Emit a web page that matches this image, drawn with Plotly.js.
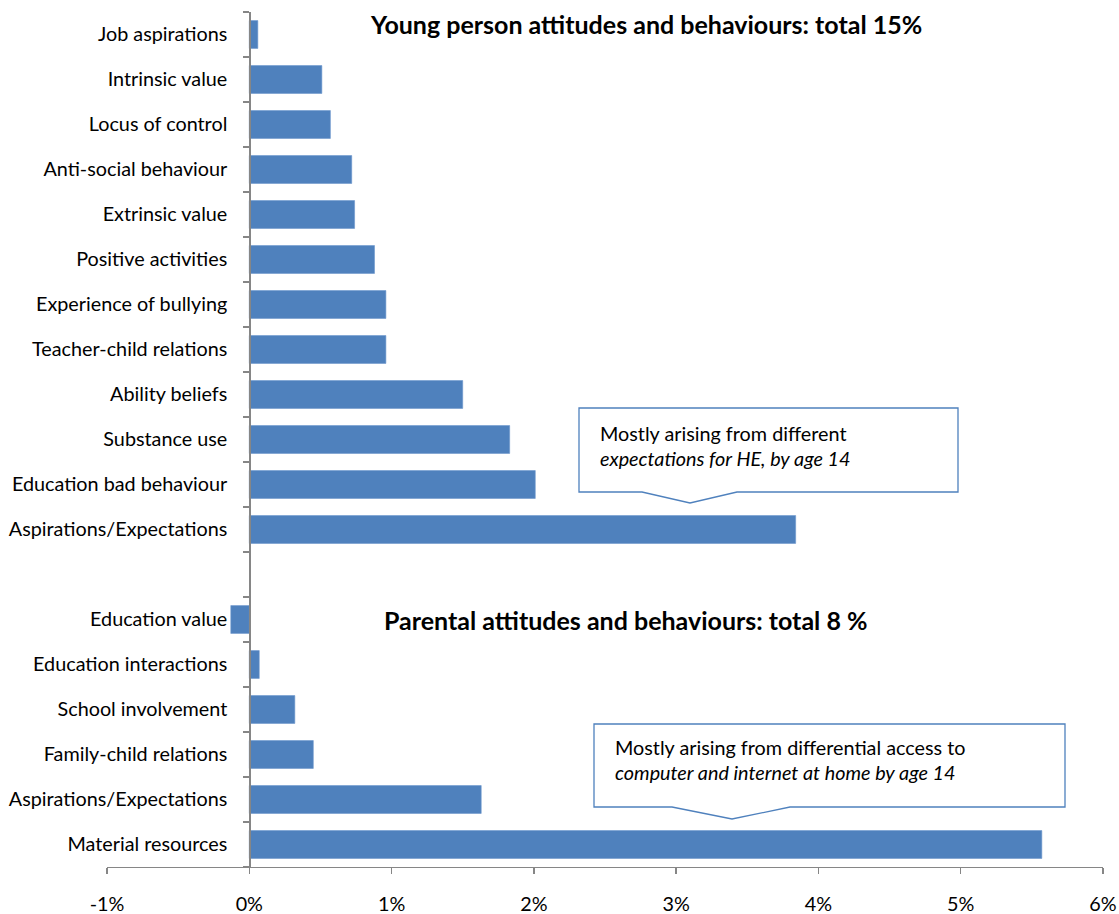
<!DOCTYPE html>
<html>
<head>
<meta charset="utf-8">
<script src="https://cdn.plot.ly/plotly-3.0.1.min.js"></script>
<style>html,body{margin:0;padding:0;background:#fff;}#chart{width:1119px;height:914px;}</style>
</head>
<body>
<div id="chart"></div>
<script>
// ---- Data ----
const youngLabels = [
  "Job aspirations", "Intrinsic value", "Locus of control", "Anti-social behaviour",
  "Extrinsic value", "Positive activities", "Experience of bullying", "Teacher-child relations",
  "Ability beliefs", "Substance use", "Education bad behaviour", "Aspirations/Expectations"
];
const youngValues = [0.06, 0.51, 0.57, 0.72, 0.74, 0.88, 0.96, 0.96, 1.50, 1.83, 2.01, 3.84];

const parentLabels = [
  "Education value", "Education interactions", "School involvement",
  "Family-child relations", "Aspirations/Expectations", "Material resources"
];
const parentValues = [-0.13, 0.07, 0.32, 0.45, 1.63, 5.57];

const xTickVals = [-1, 0, 1, 2, 3, 4, 5, 6];
const xTickText = ["-1%", "0%", "1%", "2%", "3%", "4%", "5%", "6%"];

const youngTitle = "Young person attitudes and behaviours: total 15%";
const parentTitle = "Parental attitudes and behaviours: total 8 %";
const note1 = ["Mostly arising from different", "<i>expectations for HE, by age 14</i>"];
const note2 = ["Mostly arising from differential access to", "<i>computer and internet at home by age 14</i>"];

// ---- Build categories ----
const keys = [], labels = [], vals = [];
youngLabels.forEach((l, i) => { keys.push("yp" + i); labels.push(l); vals.push(youngValues[i]); });
keys.push("gap"); labels.push(""); vals.push(null);
parentLabels.forEach((l, i) => { keys.push("pa" + i); labels.push(l); vals.push(parentValues[i]); });

// ---- Layout geometry ----
const W = 1119, H = 914;
const M = {l: 107, r: 16, t: 12, b: 47};
const PW = W - M.l - M.r, PH = H - M.t - M.b;
const xRange = [-1, 6];
const px = x => (x - M.l) / PW;
const py = y => (H - M.b - y) / PH;

const FONT = "Lato, 'Open Sans', sans-serif";
const FS = 19.8;
const blue = "#4F81BD";
const grey = "#868686";

function callout(x0, x1, y0, y1, b0, tipx, tipy, b1) {
  return {
    type: "path", xref: "paper", yref: "paper",
    path: `M ${px(x0)} ${py(y0)} L ${px(x1)} ${py(y0)} L ${px(x1)} ${py(y1)} L ${px(b1)} ${py(y1)} ` +
          `L ${px(tipx)} ${py(tipy)} L ${px(b0)} ${py(y1)} L ${px(x0)} ${py(y1)} Z`,
    line: {color: blue, width: 1.3}, fillcolor: "#ffffff", layer: "above"
  };
}

function txt(text, x, y, opts) {
  return Object.assign({
    text: text, xref: "paper", yref: "paper", x: px(x), y: py(y),
    xanchor: "left", yanchor: "middle", showarrow: false,
    font: {family: FONT, size: FS, color: "#000"}
  }, opts || {});
}

const trace = {
  type: "bar", orientation: "h",
  y: keys, x: vals,
  marker: {color: blue, line: {color: "#6d97cc", width: 0.6}},
  hoverinfo: "skip"
};

const layout = {
  width: W, height: H,
  margin: M,
  paper_bgcolor: "#fff", plot_bgcolor: "#fff",
  showlegend: false,
  bargap: 0.38,
  font: {family: FONT, size: FS, color: "#000"},
  xaxis: {
    range: xRange, tickmode: "array", tickvals: xTickVals, ticktext: xTickText,
    showgrid: false, zeroline: false, showline: true, linecolor: grey, linewidth: 1.3,
    ticks: "outside", ticklen: 6, tickcolor: grey, tickwidth: 1.3,
    ticklabelstandoff: 13,
    tickfont: {family: FONT, size: FS, color: "#000"}, fixedrange: true
  },
  yaxis: {
    type: "category", categoryorder: "array", categoryarray: keys,
    autorange: "reversed",
    tickmode: "array", tickvals: keys, ticktext: labels,
    tickson: "boundaries",
    anchor: "free", position: (0 - xRange[0]) / (xRange[1] - xRange[0]),
    showgrid: false, zeroline: false, showline: true, linecolor: grey, linewidth: 1.3,
    ticks: "outside", ticklen: 6, tickcolor: grey, tickwidth: 1.3,
    ticklabelstandoff: 18,
    tickfont: {family: FONT, size: FS, color: "#000"}, fixedrange: true
  },
  shapes: [
    callout(579, 958, 408, 492, 642, 690, 503, 737),
    callout(594, 1065, 724, 807, 672, 732, 819, 790)
  ],
  annotations: [
    txt("<b>" + youngTitle + "</b>", 646, 24, {xanchor: "center", font: {family: FONT, size: 25, color: "#000"}}),
    txt("<b>" + parentTitle + "</b>", 625, 620, {xanchor: "center", font: {family: FONT, size: 25, color: "#000"}}),
    txt(note1[0], 598, 433),
    txt(note1[1], 598, 458),
    txt(note2[0], 613, 747),
    txt(note2[1], 613, 772)
  ]
};

Plotly.newPlot("chart", [trace], layout, {displayModeBar: false, staticPlot: true});
</script>
</body>
</html>
